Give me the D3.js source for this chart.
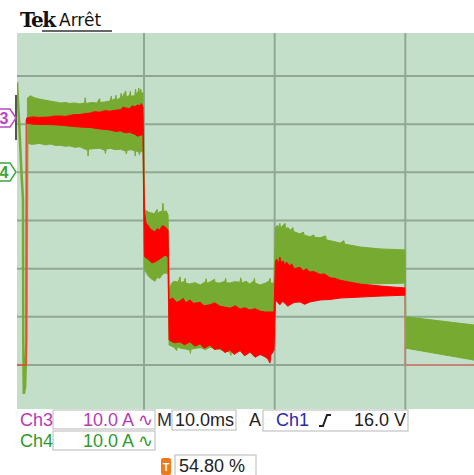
<!DOCTYPE html>
<html>
<head>
<meta charset="utf-8">
<script src="https://cdn.jsdelivr.net/npm/d3@7/dist/d3.min.js"></script>
<style>
  body { margin: 0; background: #fff; }
</style>
</head>
<body>
<div id="scope"></div>
<script>
// scope settings: 10 ms/div, 10 A/div. time in ms, current in A
var gridTimes = [10, 20, 30];
var gridAmps = [0, 10, 20, 30, 40, 50, 60];

// Ch4 (green) noise envelope, upper edge
var ch4TopTime = [1.08, 1.3, 1.6, 2.0, 2.4, 2.8, 3.2, 3.6, 4.0, 4.3, 4.7, 5.1, 5.45, 5.5, 5.55, 6.0, 6.4, 6.6, 6.65, 7.0, 7.4, 7.5, 7.55, 7.8, 7.85, 7.9, 8.2, 8.25, 8.3, 8.6, 8.65, 8.9, 8.95, 9.0, 9.3, 9.35, 9.4, 9.55, 9.6, 9.65, 9.75, 9.8, 9.92,
                  10.05, 10.3, 10.5, 10.8, 11.0, 11.05, 11.2, 11.4, 11.45, 11.5, 11.7, 11.84,
                  11.92, 12.1, 12.3, 12.6, 12.76, 12.8, 13.1, 13.15, 13.2, 13.5, 13.9, 14.3, 14.7, 14.75, 14.8, 15.05, 15.4, 15.45, 15.8, 16.2, 16.25, 16.3, 16.58, 16.9, 17.35, 17.4, 17.5, 17.8, 18.1, 18.4, 18.45, 18.5, 18.9, 19.3, 19.6, 19.65, 19.7, 19.95,
                  20.06, 20.2, 20.25, 20.4, 20.45, 20.6, 20.8, 20.85, 21.0, 21.2, 21.4, 21.45, 21.94, 22.2, 22.25, 22.7, 23.0, 23.05, 23.47, 23.9, 23.95, 24.24, 24.6, 25.0, 25.3, 25.35, 25.77, 26.53, 27.3, 28.06, 29.0, 29.97,
                  30.03, 35.3];
var ch4Top = [55.4, 55.9, 55.5, 55.2, 55.0, 54.8, 54.6, 54.4, 54.5, 54.3, 54.4, 54.2, 54.4, 55.5, 54.3, 54.5, 54.4, 55.3, 54.5, 54.6, 54.8, 55.8, 54.9, 55.3, 56.0, 55.0, 55.5, 56.4, 55.4, 56.9, 55.6, 56.0, 56.8, 55.8, 55.9, 57.3, 56.2, 56.7, 57.5, 56.3, 57.3, 56.4, 56.5,
              32.2, 31.8, 31.6, 31.4, 32.3, 31.4, 31.8, 31.9, 33.6, 31.8, 32.0, 31.2,
              15.6, 16.9, 17.4, 17.2, 18.3, 17.0, 17.4, 18.0, 17.0, 16.8, 17.1, 16.6, 17.3, 17.9, 17.0, 17.2, 17.8, 17.1, 17.0, 17.4, 18.0, 17.1, 17.0, 17.3, 17.2, 18.1, 17.0, 17.4, 16.8, 17.5, 18.0, 17.0, 16.6, 17.0, 17.5, 18.0, 17.0, 17.0,
              28.4, 29.0, 28.2, 29.4, 28.4, 28.9, 29.4, 28.2, 28.6, 28.0, 28.5, 27.7, 27.2, 27.6, 27.0, 26.6, 27.0, 26.5, 26.4, 26.8, 26.0, 25.8, 25.6, 25.3, 25.8, 25.1, 24.9, 24.5, 24.3, 24.1, 24.0, 23.9,
              10.0, 8.3];
// Ch4 lower edge
var ch4BottomTime = [1.08, 1.4, 2.0, 2.5, 2.8, 3.2, 3.6, 4.0, 4.3, 4.7, 5.1, 5.5, 5.7, 5.72, 5.75, 6.1, 6.6, 7.0, 7.05, 7.1, 7.4, 7.8, 8.2, 8.6, 8.65, 8.7, 9.0, 9.3, 9.32, 9.35, 9.6, 9.65, 9.7, 9.92,
                     10.05, 10.3, 10.5, 10.84, 11.0, 11.2, 11.4, 11.6, 11.84,
                     11.92, 12.3, 12.5, 12.55, 12.8, 13.2, 13.5, 13.55, 13.6, 14.0, 14.3, 14.7, 15.05, 15.4, 15.8, 16.2, 16.58, 16.65, 16.7, 17.35, 17.8, 18.1, 18.5, 18.9, 19.5, 19.95,
                     20.06, 21.0, 22.0, 23.5, 25.0, 27.0, 29.97,
                     30.03, 35.3];
var ch4Bottom = [46.1, 45.8, 46.0, 45.7, 45.9, 45.6, 45.6, 45.4, 45.5, 45.2, 45.3, 44.8, 44.6, 43.4, 44.8, 44.9, 45.0, 44.6, 43.9, 44.8, 45.0, 44.7, 44.8, 44.4, 43.8, 44.6, 44.7, 44.5, 43.4, 44.5, 44.2, 43.6, 44.3, 44.3,
                 19.7, 18.6, 18.0, 17.4, 18.2, 18.0, 18.8, 19.1, 19.0,
                 4.15, 3.7, 3.0, 3.8, 3.5, 3.3, 3.1, 2.4, 3.3, 3.5, 3.6, 3.2, 3.7, 3.4, 3.2, 2.9, 2.7, 2.0, 2.9, 3.0, 3.3, 3.5, 3.2, 3.5, 3.8, 4.15,
                 15.0, 15.6, 16.0, 16.4, 16.6, 16.8, 17.0,
                 3.5, 1.0];

// Ch3 (red) noise envelope, upper edge
var ch3TopTime = [1.02, 1.5, 2.0, 2.8, 3.2, 3.6, 4.0, 4.3, 4.7, 5.1, 5.5, 5.9, 6.2, 6.6, 7.0, 7.4, 7.8, 8.2, 8.4, 8.55, 8.9, 9.1, 9.3, 9.5, 9.7, 9.8, 9.92,
                  10.03, 10.15, 10.3, 10.5, 10.84, 11.0, 11.2, 11.4, 11.61, 11.84,
                  11.92, 12.2, 12.5, 12.76, 13.0, 13.2, 13.52, 13.8, 14.29, 14.6, 15.05, 15.4, 15.82, 16.2, 16.58, 17.0, 17.35, 17.7, 18.11, 18.5, 18.88, 19.26, 19.64, 19.95,
                  20.06, 20.15, 20.3, 20.4, 20.5, 20.65, 20.79, 20.9, 21.17, 21.3, 21.5, 21.94, 22.2, 22.4, 22.7, 23.0, 23.47, 23.8, 24.24, 24.6, 25.0, 25.77, 26.53, 27.3, 28.06, 29.0, 29.97];
var ch3Top = [51.3, 51.5, 51.4, 51.5, 51.7, 51.7, 51.6, 51.8, 52.0, 52.0, 52.2, 52.3, 52.6, 52.5, 52.8, 52.7, 52.9, 53.0, 53.5, 53.4, 53.2, 53.8, 53.6, 54.0, 53.8, 54.3, 53.6,
              32.0, 29.5, 29.0, 28.2, 27.6, 28.3, 28.0, 28.9, 28.7, 28.0,
              13.5, 13.9, 13.0, 13.3, 13.8, 12.9, 13.5, 12.8, 13.0, 12.3, 12.5, 12.9, 12.2, 12.0, 11.8, 12.3, 11.6, 11.9, 11.4, 11.7, 11.2, 11.0, 11.0, 11.0,
              21.4, 22.0, 21.0, 22.4, 21.2, 21.6, 20.6, 21.4, 20.5, 21.0, 20.0, 20.3, 19.5, 20.0, 19.3, 19.4, 18.8, 18.9, 18.1, 18.0, 17.6, 17.2, 16.8, 16.6, 16.4, 16.2, 16.0];
// Ch3 lower edge
var ch3BottomTime = [1.02, 1.5, 2.8, 3.6, 4.3, 5.1, 5.9, 6.6, 7.4, 7.8, 8.2, 8.55, 8.9, 9.3, 9.5, 9.7, 9.92,
                     10.03, 10.3, 10.6, 10.84, 11.2, 11.61, 11.84,
                     11.92, 12.3, 12.76, 13.1, 13.52, 13.9, 14.29, 14.6, 15.05, 15.4, 15.82, 16.2, 16.58, 16.9, 17.35, 17.7, 18.11, 18.5, 18.88, 19.26, 19.5, 19.64, 19.7, 19.95,
                     20.06, 20.4, 20.6, 20.79, 21.0, 21.17, 21.5, 21.94, 22.3, 22.7, 23.47, 24.24, 25.0, 25.77, 26.53, 28.06, 29.97];
var ch3Bottom = [50.2, 50.0, 49.9, 49.8, 49.6, 49.4, 49.3, 49.0, 48.8, 48.5, 48.6, 48.2, 48.3, 47.9, 47.5, 47.7, 47.8,
                 22.5, 22.0, 21.2, 21.4, 22.0, 22.8, 22.4,
                 5.2, 4.6, 4.8, 4.2, 4.8, 3.9, 4.4, 3.5, 4.15, 3.2, 3.5, 2.6, 3.1, 2.2, 3.0, 1.9, 2.7, 1.6, 2.2, 1.7, 1.2, 0.4, 2.0, 3.1,
                 13.5, 12.5, 13.2, 12.8, 12.2, 12.5, 13.0, 13.1, 12.6, 13.1, 13.5, 13.6, 13.9, 14.0, 14.1, 14.3, 14.5];

// thin parts of the traces (before trigger / after switch off)
var ch3LeadTime = [0.28, 0.99, 0.99];
var ch3LeadAmp = [0, 0, 50.9];
var ch3TailTime = [29.99, 29.99, 35.3];
var ch3TailAmp = [15.0, 0, 0];
var ch4LeadTime = [0.28, 0.45, 0.62, 0.74, 0.76, 0.8, 0.9, 1.0, 1.06];
var ch4LeadAmp = [58.7, 50.0, 40.0, 34.3, 5.8, -6.0, -4.5, 5.0, 46.1];

var W = 474, H = 475;
var plot = {left: 17, top: 33, right: 474, bottom: 409};

var svg = d3.select("#scope")
    .append("svg")
    .attr("width", W)
    .attr("height", H)
    .style("font-family", "'Liberation Sans', Arial, sans-serif");

var x = d3.scaleLinear().domain([0, 30]).range([13.33, 405.33]);
var y = d3.scaleLinear().domain([0, 60]).range([365, 76]);

svg.append("clipPath").attr("id", "clip")
    .append("rect")
    .attr("x", plot.left).attr("y", plot.top)
    .attr("width", plot.right - plot.left).attr("height", plot.bottom - plot.top);

// screen background
svg.append("rect")
    .attr("x", plot.left).attr("y", plot.top)
    .attr("width", plot.right - plot.left)
    .attr("height", plot.bottom - plot.top)
    .style("fill", "#c3dfc9");

// graticule
var grid = svg.append("g").attr("clip-path", "url(#clip)");
grid.selectAll(".hline")
    .data(gridAmps)
    .enter()
    .append("line")
    .attr("x1", plot.left).attr("x2", plot.right)
    .attr("y1", d => y(d)).attr("y2", d => y(d))
    .style("stroke", "#8fa896")
    .style("stroke-width", 2);
svg.selectAll(".vline")
    .data(gridTimes)
    .enter()
    .append("line")
    .attr("x1", d => x(d)).attr("x2", d => x(d))
    .attr("y1", plot.top).attr("y2", plot.bottom + 3)
    .style("stroke", "#8fa896")
    .style("stroke-width", 2);

function pts(t, a) {
    return t.map(function (v, i) { return [v, a[i]]; });
}
// envelope polygon: upper edge left->right, lower edge right->left
function envelope(tTop, top, tBot, bot) {
    return pts(tTop, top).concat(pts(tBot, bot).reverse());
}

var trace = d3.line()
    .x(d => x(d[0]))
    .y(d => y(d[1]));

var traces = svg.append("g").attr("clip-path", "url(#clip)");

// green Ch4
traces.append("path")
    .datum(pts(ch4LeadTime, ch4LeadAmp))
    .attr("d", trace)
    .style("fill", "none")
    .style("stroke", "#77aa30")
    .style("stroke-width", 2.5);
traces.append("path")
    .datum(envelope(ch4TopTime, ch4Top, ch4BottomTime, ch4Bottom))
    .attr("d", d => trace(d) + "Z")
    .style("fill", "#77aa30")
    .style("stroke", "#77aa30")
    .style("stroke-width", 1);

// red Ch3
traces.append("path")
    .datum(pts(ch3LeadTime, ch3LeadAmp))
    .attr("d", trace)
    .style("fill", "none")
    .style("stroke", "#e0503a")
    .style("stroke-width", 1.5);
traces.append("path")
    .datum(pts(ch3TailTime, ch3TailAmp))
    .attr("d", trace)
    .style("fill", "none")
    .style("stroke", "#d9786a")
    .style("stroke-width", 1.5);
traces.append("path")
    .datum(envelope(ch3TopTime, ch3Top, ch3BottomTime, ch3Bottom))
    .attr("d", d => trace(d) + "Z")
    .style("fill", "#ff0000")
    .style("stroke", "#ff0000")
    .style("stroke-width", 1);

// channel markers on the left
svg.append("rect")
    .attr("x", 15).attr("y", 95).attr("width", 2).attr("height", 45)
    .style("fill", "#555");

function marker(yy, col, label) {
    svg.append("path")
        .attr("d", "M-3," + (yy - 9) + "L10," + (yy - 9) + "L16," + yy + "L10," + (yy + 9) + "L-3," + (yy + 9) + "Z")
        .style("fill", "#fdf8fd")
        .style("stroke", col)
        .style("stroke-width", 1.5);
    svg.append("text")
        .attr("x", 4).attr("y", yy + 6)
        .style("text-anchor", "middle")
        .style("font-size", "16px")
        .style("font-weight", "bold")
        .style("fill", col)
        .text(label);
}
marker(118, "#b848c0", "3");
marker(172, "#3aa83a", "4");

// header
svg.append("text")
    .attr("x", 20).attr("y", 27)
    .style("font-family", "'DejaVu Serif', serif")
    .style("font-weight", "bold")
    .style("font-size", "20px")
    .style("letter-spacing", "-1.5px")
    .style("fill", "#111")
    .text("Tek");
svg.append("text")
    .attr("x", 59).attr("y", 26)
    .style("font-family", "'DejaVu Sans', sans-serif")
    .style("font-size", "17px")
    .style("fill", "#111")
    .text("Arrêt");
svg.append("rect")
    .attr("x", 42).attr("y", 30).attr("width", 70).attr("height", 2)
    .style("fill", "#666");

// readout boxes
var boxes = [
    [53, 410, 102, 19], [53, 431, 102, 19],
    [172, 410, 64, 20], [263, 410, 145, 21], [175, 455, 81, 22]
];
svg.selectAll(".box")
    .data(boxes)
    .enter()
    .append("rect")
    .attr("x", d => d[0]).attr("y", d => d[1])
    .attr("width", d => d[2]).attr("height", d => d[3])
    .style("fill", "#fff")
    .style("stroke", "#c4c4c4")
    .style("stroke-width", 1.2);

function label(xx, yy, txt, col, anchor) {
    svg.append("text")
        .attr("x", xx).attr("y", yy)
        .style("font-size", "18px")
        .style("text-anchor", anchor || "start")
        .style("fill", col)
        .text(txt);
}
label(20, 426, "Ch3", "#b43cb4");
label(153, 426, "10.0 A \u223F", "#b43cb4", "end");
label(20, 447, "Ch4", "#2e9a2e");
label(153, 447, "10.0 A \u223F", "#2e9a2e", "end");
label(157, 426, "M", "#333");
label(175, 426, "10.0ms", "#222");
label(249, 426, "A", "#222");
label(276, 426, "Ch1", "#2a2aa8");
label(406, 426, "16.0 V", "#222", "end");
label(179, 472, "54.80 %", "#222");

// rising edge trigger symbol
svg.append("path")
    .attr("d", "M319,426 L323,426 L327,415 L331,415")
    .style("fill", "none")
    .style("stroke", "#222")
    .style("stroke-width", 2);

// trigger position icon
svg.append("rect")
    .attr("x", 161).attr("y", 458).attr("width", 10).attr("height", 17)
    .attr("rx", 2)
    .style("fill", "#f07a1a");
svg.append("text")
    .attr("x", 166).attr("y", 471)
    .style("text-anchor", "middle")
    .style("font-size", "11px")
    .style("font-weight", "bold")
    .style("fill", "#fff")
    .text("T");
</script>
</body>
</html>
